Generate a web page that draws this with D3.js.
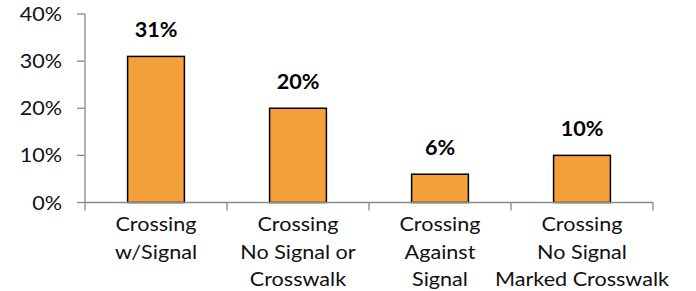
<!DOCTYPE html>
<html>
<head>
<meta charset="utf-8">
<script src="https://cdn.jsdelivr.net/npm/d3@7"></script>
<style>
  body { margin: 0; background: #fff; }
  svg { display: block; font-family: Lato, "Open Sans", sans-serif; }
</style>
</head>
<body>
<div id="chart"></div>
<script>
const categories = ["w/Signal", "No Signal or Crosswalk", "Against Signal", "No Signal Marked Crosswalk"];
const categoryLines = [
  ["Crossing", "w/Signal"],
  ["Crossing", "No Signal or", "Crosswalk"],
  ["Crossing", "Against", "Signal"],
  ["Crossing", "No Signal", "Marked Crosswalk"],
];
const shares = [0.31, 0.20, 0.06, 0.10];
const yTicks = [0, 0.1, 0.2, 0.3, 0.4];

const width = 696;
const height = 291;
const fontSize = 20;
const stretch = 1.08; // source picture is a little wide

const svg = d3.select("#chart").append("svg")
  .attr("width", width)
  .attr("height", height);

const x = d3.scaleBand()
  .domain(categories)
  .range([85, 653])
  .paddingInner(0.6)
  .paddingOuter(0.3);

const y = d3.scaleLinear()
  .domain([0, 0.4])
  .range([202.5, 14]);

const axisColor = "#8a8a8a";

// y axis
const yAxis = svg.append("g").attr("transform", "translate(85,0)");
yAxis.append("line")
  .attr("x1", 0).attr("x2", 0)
  .attr("y1", y(0.4)).attr("y2", y(0))
  .attr("stroke", axisColor).attr("stroke-width", 1.3);
yAxis.selectAll("line.tick")
  .data(yTicks)
  .join("line")
  .attr("class", "tick")
  .attr("x1", -8).attr("x2", 0)
  .attr("y1", (d) => y(d)).attr("y2", (d) => y(d))
  .attr("stroke", axisColor).attr("stroke-width", 1.3);
yAxis.selectAll("text")
  .data(yTicks)
  .join("text")
  .attr("transform", (d) => `translate(-23,${y(d)}) scale(${stretch},1)`)
  .attr("dy", "0.35em")
  .attr("text-anchor", "end")
  .attr("font-size", fontSize)
  .attr("fill", "#111")
  .text((d) => d3.format(".0%")(d));

// bars
svg.append("g")
  .selectAll("rect")
  .data(shares)
  .join("rect")
  .attr("x", (d, i) => x(categories[i]))
  .attr("y", (d) => y(d))
  .attr("width", x.bandwidth())
  .attr("height", (d) => y(0) - y(d))
  .attr("fill", "#f4a13b")
  .attr("stroke", "#000")
  .attr("stroke-width", 1.5);

// value labels
svg.append("g")
  .selectAll("text")
  .data(shares)
  .join("text")
  .attr("transform", (d, i) =>
    `translate(${x(categories[i]) + x.bandwidth() / 2},${y(d) - 19}) scale(${stretch},1)`)
  .attr("text-anchor", "middle")
  .attr("font-size", fontSize)
  .attr("font-weight", "bold")
  .attr("fill", "#000")
  .text((d) => d3.format(".0%")(d));

// x axis
const xAxis = svg.append("g");
xAxis.append("line")
  .attr("x1", 85).attr("x2", 653)
  .attr("y1", y(0)).attr("y2", y(0))
  .attr("stroke", axisColor).attr("stroke-width", 1.3);
const bounds = categories.map((c) => x(c) - x.step() * x.paddingOuter()).concat([653]);
xAxis.selectAll("line.tick")
  .data(bounds)
  .join("line")
  .attr("class", "tick")
  .attr("x1", (d) => d).attr("x2", (d) => d)
  .attr("y1", y(0)).attr("y2", y(0) + 8)
  .attr("stroke", axisColor).attr("stroke-width", 1.3);

const labels = xAxis.selectAll("g.label")
  .data(categories)
  .join("g")
  .attr("class", "label")
  .attr("transform", (d) => `translate(${x(d) + x.bandwidth() / 2},0)`);
labels.selectAll("text")
  .data((d, i) => categoryLines[i])
  .join("text")
  .attr("transform", (d, j) => `translate(0,${231 + j * 27.5}) scale(${stretch},1)`)
  .attr("text-anchor", "middle")
  .attr("font-size", fontSize)
  .attr("fill", "#111")
  .text((d) => d);
</script>
</body>
</html>
